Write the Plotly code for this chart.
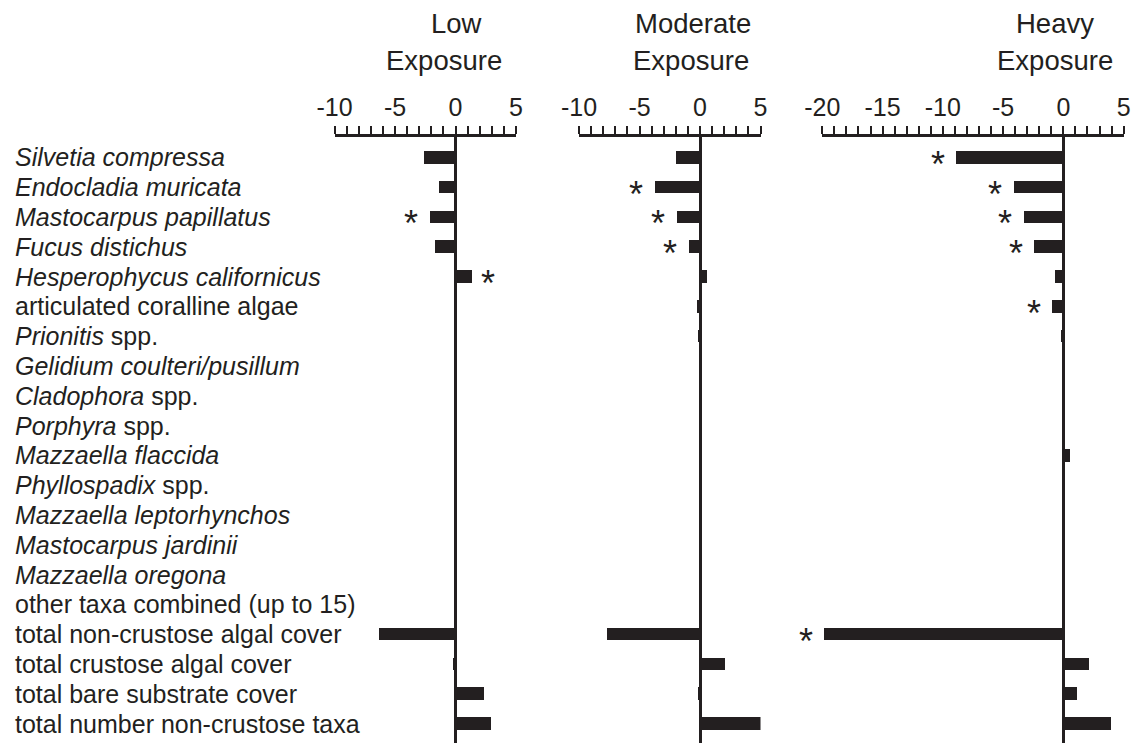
import plotly.graph_objects as go

categories = [
    "<i>Silvetia compressa</i>",
    "<i>Endocladia muricata</i>",
    "<i>Mastocarpus papillatus</i>",
    "<i>Fucus distichus</i>",
    "<i>Hesperophycus californicus</i>",
    "articulated coralline algae",
    "<i>Prionitis</i> spp.",
    "<i>Gelidium coulteri/pusillum</i>",
    "<i>Cladophora</i> spp.",
    "<i>Porphyra</i> spp.",
    "<i>Mazzaella flaccida</i>",
    "<i>Phyllospadix</i> spp.",
    "<i>Mazzaella leptorhynchos</i>",
    "<i>Mastocarpus jardinii</i>",
    "<i>Mazzaella oregona</i>",
    "other taxa combined (up to 15)",
    "total non-crustose algal cover",
    "total crustose algal cover",
    "total bare substrate cover",
    "total number non-crustose taxa",
]

low_values = [-2.68, -1.38, -2.12, -1.74, 1.35, 0, -0.2, 0, 0, 0,
              0, 0, 0, 0, 0, 0, -6.4, -0.28, 2.28, 2.86]
moderate_values = [-2.0, -3.7, -1.93, -0.93, 0.55, -0.27, -0.15, 0, 0, 0.2,
                   0, 0, 0, 0, 0, 0, -7.7, 2.07, -0.1, 5.0]
heavy_values = [-8.85, -4.07, -3.24, -2.37, -0.66, -0.88, -0.15, 0, -0.1, 0,
                0.55, 0, 0, 0, 0, 0, -19.8, 2.16, 1.16, 3.96]

low_sig = [2, 4]
moderate_sig = [1, 2, 3]
heavy_sig = [0, 1, 2, 3, 5, 16]

panel_titles = [("Low", "Exposure"), ("Moderate", "Exposure"), ("Heavy", "Exposure")]
panel_ranges = [(-10, 5), (-10, 5), (-20, 5)]

W, H = 1139, 743
INK = "#231f20"
FONT = "Liberation Sans, Arial, sans-serif"

# pixel layout
domains_px = [(334.5, 516.0), (579.0, 760.5), (822.3, 1123.6)]
title_cx = [(456, 444), (693, 691), (1055, 1055)]
axis_top_px = 137
row0_px = 157.3
row_step = 29.8

ytop = -(row0_px - axis_top_px) / row_step
ybot = (len(categories) - 1) + (H - (row0_px + (len(categories) - 1) * row_step)) / row_step

fig = go.Figure()
axnames = ["x", "x2", "x3"]
all_vals = [low_values, moderate_values, heavy_values]
all_sig = [low_sig, moderate_sig, heavy_sig]
ys = list(range(len(categories)))

for i, vals in enumerate(all_vals):
    fig.add_trace(go.Bar(
        x=vals, y=ys, orientation="h", width=0.42,
        marker=dict(color=INK, line=dict(width=0)),
        xaxis=axnames[i], yaxis="y", showlegend=False,
    ))

layout = dict(
    width=W, height=H, autosize=False,
    margin=dict(l=0, r=0, t=0, b=0, pad=0),
    paper_bgcolor="white", plot_bgcolor="white",
    font=dict(family=FONT, color=INK, size=25),
    bargap=0,
    yaxis=dict(range=[ybot, ytop], domain=[0, 1 - axis_top_px / H],
               visible=False, anchor="x", fixedrange=True),
)

for i, (lo, hi) in enumerate(panel_ranges):
    key = "xaxis" if i == 0 else f"xaxis{i+1}"
    tv = list(range(lo, hi + 1))
    tt = [str(v) if v % 5 == 0 else "" for v in tv]
    d0, d1 = domains_px[i]
    layout[key] = dict(
        domain=[d0 / W, d1 / W], range=[lo, hi], side="top", anchor="y",
        showline=True, linecolor=INK, linewidth=2.5,
        ticks="outside", ticklen=8, tickwidth=2, tickcolor=INK,
        tickvals=tv, ticktext=tt, tickfont=dict(size=25, color=INK, family=FONT),
        showgrid=False, zeroline=True, zerolinecolor=INK, zerolinewidth=3,
        fixedrange=True, automargin=False,
    )

annotations = []
# category labels
for j, c in enumerate(categories):
    annotations.append(dict(
        text=c, x=13 / W, xref="paper", xanchor="left",
        y=j, yref="y", yanchor="middle", showarrow=False,
        font=dict(size=25, color=INK, family=FONT),
    ))
# asterisks
for i, (vals, sig) in enumerate(zip(all_vals, all_sig)):
    for j in sig:
        v = vals[j]
        annotations.append(dict(
            text="*", x=v, xref=axnames[i], y=j, yref="y",
            xanchor="center", yanchor="middle", showarrow=False,
            xshift=-19 if v < 0 else 16, yshift=-7,
            font=dict(size=36, color=INK, family=FONT),
        ))
# panel titles
for i, (l1, l2) in enumerate(panel_titles):
    cx1, cx2 = title_cx[i]
    annotations.append(dict(text=l1, x=cx1 / W, xref="paper", y=1 - 24 / H, yref="paper",
                            xanchor="center", yanchor="middle", showarrow=False,
                            font=dict(size=27.5, color=INK, family=FONT)))
    annotations.append(dict(text=l2, x=cx2 / W, xref="paper", y=1 - 60 / H, yref="paper",
                            xanchor="center", yanchor="middle", showarrow=False,
                            font=dict(size=27.5, color=INK, family=FONT)))

layout["annotations"] = annotations
fig.update_layout(**layout)
fig.write_html(
    "out.html",
    config={"responsive": False, "displayModeBar": False},
    default_width="1139px", default_height="743px",
    post_script="document.body.style.margin='0';document.body.style.overflow='hidden';",
)
